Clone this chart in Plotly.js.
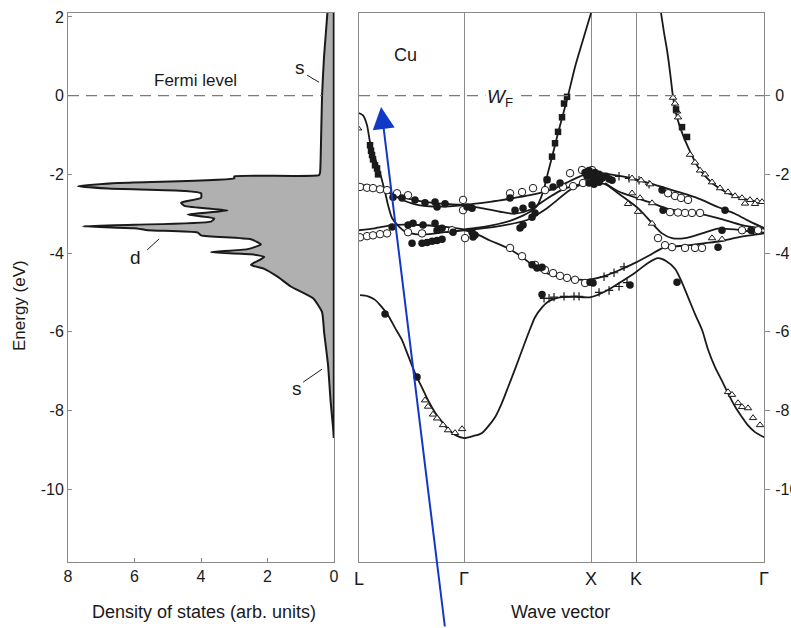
<!DOCTYPE html>
<html><head><meta charset="utf-8">
<script src="https://cdn.plot.ly/plotly-3.0.1.min.js"></script>
<style>body{margin:0;background:#fff}</style>
</head><body><div id="chart" style="width:791px;height:628px"></div>
<script>
// ---- Density of states (left panel): energy (eV) and DOS (arb. units)
const dosE = [2.1,1.0,0.0,-1.5,-1.95,-2.02,-2.05,-2.1,-2.22,-2.3,-2.36,-2.42,-2.48,-2.6,-2.72,-2.8,-2.92,-3.02,-3.12,-3.2,-3.28,-3.32,-3.37,-3.42,-3.48,-3.55,-3.65,-3.78,-3.9,-3.98,-4.03,-4.1,-4.3,-4.4,-4.6,-4.85,-5.15,-5.5,-6.0,-6.85,-7.8,-8.7];
const dosV = [0.2,0.3,0.36,0.4,0.42,0.45,3.0,3.0,6.5,7.7,6.8,4.5,4.0,4.0,4.6,4.5,3.2,4.4,3.6,3.7,6.0,7.55,6.0,5.6,4.1,4.0,2.5,2.2,2.6,3.7,2.5,2.1,2.5,2.1,1.7,1.3,0.63,0.36,0.3,0.18,0.1,0.0];

// ---- Band structure (right panel): wave vector along L-Γ-X-K-Γ (arb. units) and energy (eV)
const kTicks = [0, 1.05, 2.32, 2.77, 4.05];
const kLabels = ['L', 'Γ', 'X', 'K', 'Γ'];

const bandS1k = [0.01,0.09,0.16,0.22,0.29,0.36,0.43,0.49,0.56,0.63,0.69,0.76,0.83,0.89,0.96,1.05,1.14,1.23,1.36,1.43,1.49,1.56,1.63,1.70,1.76,1.83,1.89,1.96,2.03,2.15,2.32,2.49,2.61,2.76,2.89,2.99,3.07,3.16,3.23,3.29,3.36,3.43,3.49,3.56,3.63,3.69,3.76,3.83,3.89,3.96,4.05];
const bandS1E = [-5.07,-5.1,-5.19,-5.35,-5.58,-5.9,-6.21,-6.6,-7.05,-7.42,-7.74,-8.05,-8.29,-8.47,-8.62,-8.7,-8.65,-8.57,-8.17,-7.8,-7.41,-6.95,-6.47,-6.0,-5.63,-5.38,-5.24,-5.16,-5.12,-5.11,-5.12,-4.94,-4.75,-4.5,-4.25,-4.13,-4.2,-4.4,-4.75,-5.12,-5.55,-5.95,-6.45,-6.9,-7.25,-7.56,-7.9,-8.17,-8.38,-8.55,-8.68];

const bandLAk = [0.0,0.04,0.08,0.11,0.16,0.21,0.26,0.29,0.33,0.39,0.46,0.56,0.71,0.86,1.05];
const bandLAE = [-0.44,-0.5,-0.75,-1.18,-1.59,-1.97,-2.45,-2.78,-3.11,-3.3,-3.45,-3.52,-3.52,-3.47,-3.42];
const bandLBk = [0,0.16,0.33,0.51,0.71,0.91,1.05];
const bandLBE = [-3.42,-3.37,-3.29,-3.28,-3.3,-3.35,-3.4];
const bandLCk = [0,0.16,0.29,0.46,0.61,0.76,0.91,1.05];
const bandLCE = [-2.27,-2.32,-2.45,-2.6,-2.68,-2.73,-2.76,-2.78];
const bandLDk = [0.29,0.41,0.56,0.81,1.05];
const bandLDE = [-2.45,-2.62,-2.76,-2.82,-2.78];

const bandGAk = [1.05,1.31,1.51,1.71,1.84,1.98,2.11,2.21,2.32];
const bandGAE = [-2.78,-2.7,-2.62,-2.53,-2.45,-2.33,-2.17,-2.05,-1.97];
const bandGBk = [1.05,1.21,1.41,1.56,1.71,1.86,2.01,2.16,2.32];
const bandGBE = [-2.78,-2.85,-2.95,-3.0,-2.9,-2.65,-2.42,-2.28,-2.22];
const bandGCk = [1.05,1.21,1.34,1.51,1.61,1.71,1.78,1.84,1.89,1.93,1.99,2.06,2.09,2.16,2.26,2.32];
const bandGCE = [-3.4,-3.35,-3.29,-3.18,-3.08,-2.95,-2.8,-2.45,-1.95,-1.56,-0.95,-0.29,0.0,0.73,1.59,2.1];
const bandGDk = [1.05,1.34,1.68,1.88,2.11,2.32];
const bandGDE = [-3.42,-3.34,-3.16,-2.86,-2.4,-2.15];
const bandDLk = [1.05,1.16,1.31,1.49,1.63,1.76,1.86,1.96,2.11,2.29,2.41,2.59,2.76,2.91,3.03,3.16,3.31,3.46,3.61,3.79,3.91,4.05];
const bandDLE = [-3.42,-3.5,-3.68,-3.88,-4.1,-4.36,-4.5,-4.58,-4.65,-4.68,-4.62,-4.45,-4.25,-4.05,-3.88,-3.83,-3.8,-3.75,-3.7,-3.6,-3.55,-3.5];
const bandU1k = [2.32,2.46,2.73,3.03,3.36,3.59,3.76,3.91,4.05];
const bandU1E = [-1.94,-1.98,-2.1,-2.32,-2.58,-2.83,-3.0,-3.2,-3.36];
const bandU2k = [2.32,2.46,2.59,2.79,2.93,3.03,3.13,3.26,3.43,3.59,3.76,3.91,4.05];
const bandU2E = [-2.2,-2.25,-2.48,-2.86,-3.24,-3.5,-3.62,-3.62,-3.5,-3.38,-3.4,-3.45,-3.48];
const bandU3k = [2.46,2.59,2.93,3.09,3.36,3.59,3.83,4.05];
const bandU3E = [-2.22,-2.43,-2.73,-2.88,-2.98,-3.11,-3.29,-3.38];
const bandKSk = [3.02,3.05,3.08,3.11,3.14,3.17,3.21,3.29,3.39,3.53,3.69,3.89,4.05];
const bandKSE = [2.1,1.6,1.16,0.6,-0.03,-0.45,-0.8,-1.31,-1.81,-2.22,-2.48,-2.65,-2.7];

// ---- Experimental points: filled circles, open circles, open triangles, filled squares, crosses
const fcK = [0.34,0.43,0.56,0.66,0.76,0.78,0.86,1.13,0.33,0.49,0.54,0.64,0.76,0.78,0.83,0.94,1.13,0.53,0.63,0.68,0.73,0.78,0.83,0.26,0.58,
  1.51,1.88,1.94,2.01,1.56,1.64,1.73,1.61,1.64,1.73,1.76,1.14,1.08,1.16,1.73,1.78,1.83,2.31,2.34,1.83,2.71,3.18,
  2.26,2.28,2.3,2.32,2.34,2.36,2.38,2.4,2.43,2.47,2.5,2.53,2.3,2.35,2.4,
  3.03,3.04,3.59,3.63,3.66,3.92];
const fcE = [-2.58,-2.6,-2.65,-2.72,-2.7,-2.83,-2.75,-2.86,-3.34,-3.29,-3.24,-3.29,-3.24,-3.42,-3.37,-3.47,-3.47,-3.75,-3.75,-3.73,-3.7,-3.68,-3.65,-5.55,-7.15,
  -2.6,-2.14,-2.32,-2.22,-2.91,-2.86,-2.78,-3.36,-3.29,-3.09,-2.98,-3.59,-2.83,-3.54,-4.3,-4.38,-4.36,-4.74,-4.76,-5.05,-4.81,-4.74,
  -1.95,-2.05,-1.9,-2.0,-2.1,-1.95,-2.05,-2.0,-2.1,-2.05,-2.12,-2.15,-2.22,-2.25,-2.2,
  -2.4,-2.91,-3.85,-3.42,-2.91,-3.42];
const ocK = [0.01,0.08,0.14,0.21,0.28,0.38,0.49,0.01,0.08,0.14,0.21,0.28,0.49,0.63,0.93,1.04,1.04,1.06,
  1.51,1.63,1.74,1.86,2.11,2.23,2.33,2.04,2.14,2.24,1.51,1.63,1.76,1.86,1.94,2.01,2.08,2.16,2.26,
  3.09,3.16,3.22,3.29,3.11,3.19,3.26,3.33,3.41,2.99,3.06,3.13,3.26,3.36,3.43,3.83,3.93,3.99];
const ocE = [-2.32,-2.34,-2.35,-2.38,-2.4,-2.48,-2.53,-3.6,-3.57,-3.55,-3.52,-3.5,-3.47,-3.5,-3.42,-2.65,-2.91,-3.62,
  -2.48,-2.45,-2.35,-2.4,-1.97,-1.89,-1.89,-2.32,-2.3,-2.22,-3.87,-4.08,-4.3,-4.43,-4.51,-4.58,-4.63,-4.68,-4.76,
  -2.48,-2.55,-2.6,-2.65,-2.96,-2.97,-2.98,-2.98,-2.98,-3.62,-3.8,-3.85,-3.87,-3.87,-3.87,-3.42,-3.42,-3.42];
const trK = [-0.01,0.66,0.69,0.74,0.78,0.84,0.89,0.96,1.03,3.69,3.73,3.79,3.83,3.89,3.94,4.01,3.14,3.16,3.18,3.19,3.31,3.36,3.41,3.46,3.53,3.61,3.69,3.76,3.83,3.91,3.98,4.03,
  2.73,2.82,2.91,2.73,2.81,2.93,2.69,2.79,2.93,3.53,3.63,3.86,3.96];
const trE = [-0.83,-7.74,-7.9,-8.1,-8.2,-8.37,-8.5,-8.57,-8.47,-7.53,-7.6,-7.81,-7.91,-7.94,-8.19,-8.37,-0.05,-0.2,-0.4,-0.55,-1.5,-1.7,-1.9,-2.0,-2.2,-2.35,-2.45,-2.55,-2.6,-2.65,-2.68,-2.7,
  -2.1,-2.15,-2.25,-2.48,-2.6,-2.73,-2.75,-2.95,-3.25,-3.62,-3.65,-2.74,-2.75];
const sqK = [0.11,0.12,0.13,0.14,0.16,0.18,0.19,1.88,1.93,1.96,1.99,2.03,2.05,2.08,3.23,3.28,3.17];
const sqE = [-1.26,-1.4,-1.51,-1.62,-1.77,-1.85,-2.0,-2.14,-1.55,-1.21,-0.92,-0.55,-0.2,-0.03,-0.8,-1.05,-0.35];
const crK = [1.85,1.9,1.95,2.05,2.15,2.2,2.4,2.5,2.6,2.68,2.45,2.55,2.65,2.6,2.7,2.8,2.9];
const crE = [-5.15,-5.15,-5.12,-5.1,-5.1,-5.1,-5.0,-4.95,-4.85,-4.75,-4.6,-4.5,-4.35,-2.05,-2.1,-2.15,-2.25];

// ---- Axis ticks
const eTicksLeft = [2, 0, -2, -4, -6, -8, -10];
const eTextLeft = ['2', '0', '-2', '-4', '-6', '-8', '-10'];
const eTicksRight = [0, -2, -4, -6, -8, -10];
const eTextRight = ['0', '-2', '-4', '-6', '-8', '-10'];
const dosTicks = [8, 6, 4, 2, 0];

const FONT = 'Liberation Sans, Arial, Helvetica, sans-serif';
const INK = '#1a1a1a';

function band(k, e) {
  return {x: k, y: e, xaxis: 'x2', yaxis: 'y2', mode: 'lines', type: 'scatter',
          line: {color: INK, width: 1.8, shape: 'spline', smoothing: 0.7}, hoverinfo: 'skip'};
}
function pts(k, e, sym, size, fill, lw) {
  return {x: k, y: e, xaxis: 'x2', yaxis: 'y2', mode: 'markers', type: 'scatter',
          marker: {symbol: sym, size: size, color: fill, line: {color: INK, width: lw}}};
}

const traces = [
  {x: dosV, y: dosE, mode: 'lines', type: 'scatter', fill: 'tozerox', fillcolor: '#b0b0b0',
   line: {color: INK, width: 2, shape: 'spline', smoothing: 0.5}},
  {x: [0, 0], y: [2.1, -8.7], mode: 'lines', type: 'scatter', line: {color: INK, width: 2.5}},
  band(bandS1k, bandS1E), band(bandLAk, bandLAE), band(bandLBk, bandLBE), band(bandLCk, bandLCE),
  band(bandLDk, bandLDE), band(bandGAk, bandGAE), band(bandGBk, bandGBE), band(bandGCk, bandGCE),
  band(bandGDk, bandGDE), band(bandDLk, bandDLE), band(bandU1k, bandU1E), band(bandU2k, bandU2E),
  band(bandU3k, bandU3E), band(bandKSk, bandKSE),
  pts(crK, crE, 'cross-thin', 6, INK, 1.2),
  pts(ocK, ocE, 'circle', 7.5, '#ffffff', 1),
  pts(trK, trE, 'triangle-up', 6.5, '#ffffff', 1),
  pts(fcK, fcE, 'circle', 7.5, INK, 0),
  pts(sqK, sqE, 'square', 6.5, INK, 0)
];

const ax = {showgrid: false, zeroline: false, showline: true, mirror: true, linecolor: '#8a8a8a', linewidth: 1,
            tickfont: {family: FONT, size: 16, color: INK}};
const yr = [-11.85, 2.1];
const layout = {
  width: 791, height: 628, margin: {l: 0, r: 0, t: 0, b: 0}, showlegend: false,
  paper_bgcolor: '#fff', plot_bgcolor: '#fff', font: {family: FONT, color: INK},
  xaxis: Object.assign({}, ax, {domain: [0.0860, 0.4223], range: [8, 0], tickvals: dosTicks,
          ticks: 'inside', ticklen: 4, tickcolor: '#8a8a8a', anchor: 'y'}),
  yaxis: Object.assign({}, ax, {domain: [0.1051, 0.9793], range: yr, tickvals: eTicksLeft, ticktext: eTextLeft,
          ticks: 'inside', ticklen: 4, tickcolor: '#8a8a8a', anchor: 'x'}),
  xaxis2: Object.assign({}, ax, {domain: [0.4539, 0.9659], range: [0, 4.05], tickvals: kTicks,
          ticktext: kLabels, ticks: '', showgrid: true, gridcolor: '#8a8a8a', gridwidth: 1, anchor: 'y2',
          tickfont: {family: FONT, size: 18, color: INK}}),
  yaxis2: Object.assign({}, ax, {domain: [0.1051, 0.9793], range: yr, tickvals: eTicksRight, ticktext: eTextRight,
          side: 'right', ticks: 'outside', ticklen: 5, tickcolor: '#8a8a8a', anchor: 'x2', ticklabelstandoff: 2}),
  shapes: [
    {type: 'line', xref: 'x', yref: 'y', x0: 8, x1: 0.36, y0: 0, y1: 0, line: {color: '#7a7a7a', width: 1.3, dash: '11px,7px'}},
    {type: 'line', xref: 'x2', yref: 'y2', x0: 0, x1: 4.05, y0: 0, y1: 0, line: {color: '#7a7a7a', width: 1.3, dash: '11px,7px'}},
    {type: 'line', xref: 'x', yref: 'y', x0: 0.81, x1: 0.45, y0: 0.52, y1: 0.34, line: {color: INK, width: 1}},
    {type: 'line', xref: 'x', yref: 'y', x0: 5.62, x1: 5.26, y0: -3.92, y1: -3.64, line: {color: INK, width: 1}},
    {type: 'line', xref: 'x', yref: 'y', x0: 0.93, x1: 0.36, y0: -7.28, y1: -6.95, line: {color: INK, width: 1}}
  ],
  annotations: [
    {xref: 'x', yref: 'y', x: 4.18, y: 0.38, text: 'Fermi level', showarrow: false, font: {size: 17}},
    {xref: 'x', yref: 'y', x: 1.02, y: 0.72, text: 's', showarrow: false, font: {size: 19}},
    {xref: 'x', yref: 'y', x: 5.98, y: -4.12, text: 'd', showarrow: false, font: {size: 19}},
    {xref: 'x', yref: 'y', x: 1.11, y: -7.43, text: 's', showarrow: false, font: {size: 19}},
    {xref: 'x2', yref: 'y2', x: 0.46, y: 1.03, text: 'Cu', showarrow: false, font: {size: 18}},
    {xref: 'x2', yref: 'y2', x: 1.41, y: -0.05, text: '<i>W</i><sub>F</sub>', showarrow: false,
     font: {size: 19}, bgcolor: '#fff'},
    {xref: 'paper', yref: 'paper', x: 19/791, y: 1 - 306/628, xanchor: 'center', yanchor: 'middle',
     text: 'Energy (eV)', textangle: -90, showarrow: false, font: {size: 17}},
    {xref: 'paper', yref: 'paper', x: 204/791, y: 1 - 612/628, xanchor: 'center', yanchor: 'middle',
     text: 'Density of states (arb. units)', showarrow: false, font: {size: 18}},
    {xref: 'paper', yref: 'paper', x: 560/791, y: 1 - 612/628, xanchor: 'center', yanchor: 'middle',
     text: 'Wave vector', showarrow: false, font: {size: 18}},
    {xref: 'x2', yref: 'y2', x: 0.22, y: -0.29, text: '', showarrow: true, axref: 'pixel', ayref: 'pixel',
     ax: 64, ay: 521, arrowcolor: '#1238c8', arrowwidth: 2, arrowhead: 2, arrowsize: 2.2, standoff: 0}
  ]
};
Plotly.newPlot('chart', traces, layout, {staticPlot: true});
</script></body></html>
